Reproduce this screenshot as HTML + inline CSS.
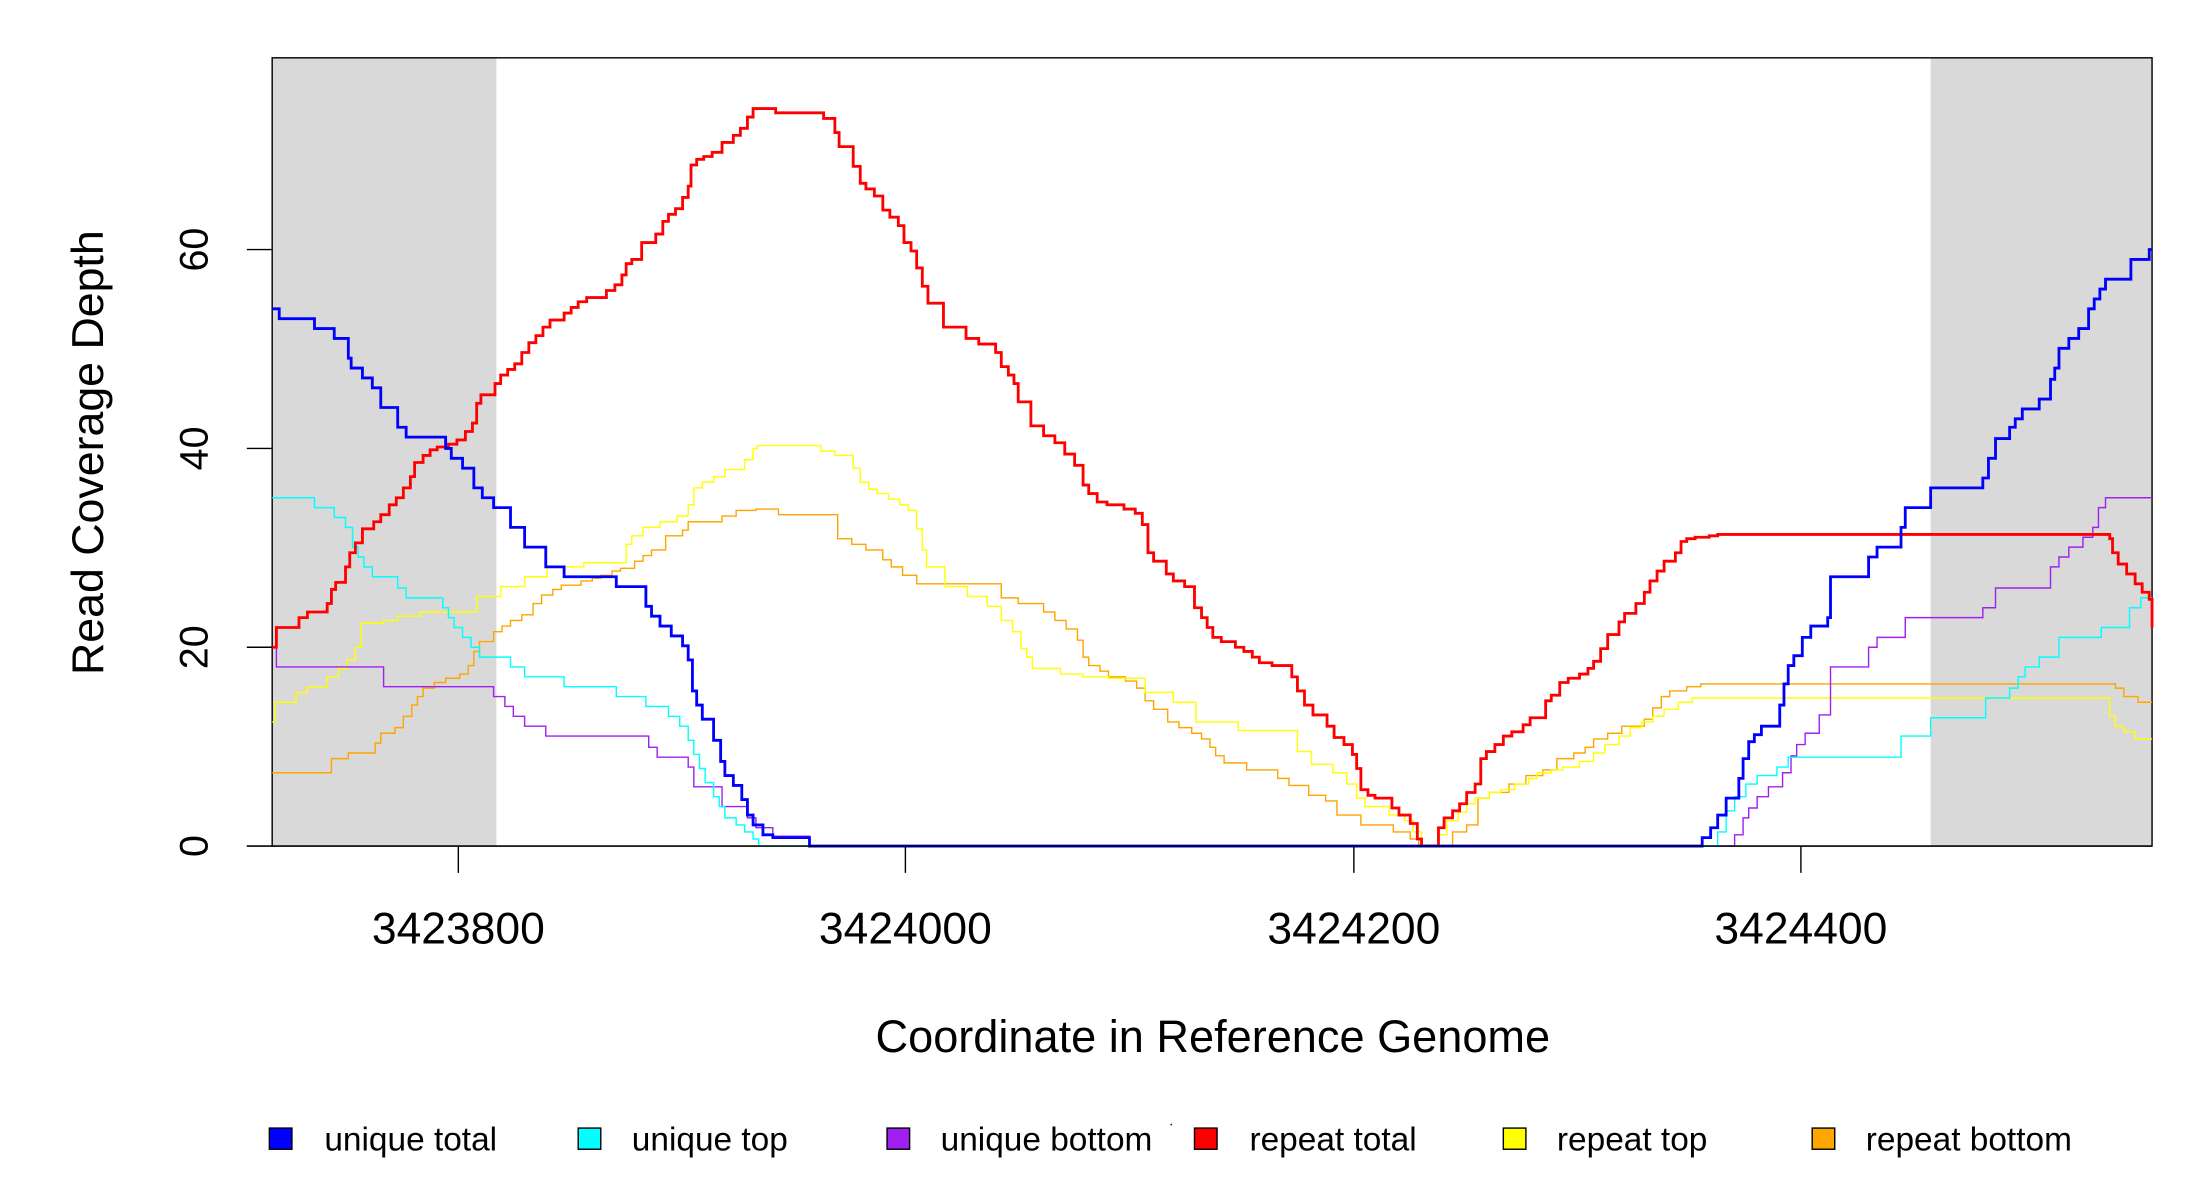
<!DOCTYPE html>
<html><head><meta charset="utf-8"><style>html,body{margin:0;padding:0;background:#fff;}svg{display:block;}</style></head>
<body>
<svg width="2200" height="1200" viewBox="0 0 1560 851" preserveAspectRatio="none" xmlns="http://www.w3.org/2000/svg" font-family="Liberation Sans, sans-serif">
<rect x="0" y="0" width="1560" height="851" fill="#fff"/>
<rect x="193" y="41" width="159" height="559" fill="#d9d9d9"/>
<rect x="1369" y="41" width="157" height="559" fill="#d9d9d9"/>
<rect x="193" y="41" width="1333" height="559" fill="none" stroke="#000" stroke-width="1"/>
<g fill="none" stroke-linejoin="miter">
<polyline stroke="#ffa500" stroke-width="1" points="193,548 235,548 235,538 247,538 247,534 266,534 266,527 270,527 270,520 280,520 280,516 286,516 286,508 292,508 292,500 296,500 296,494 300,494 300,488 308,488 308,484 316,484 316,481 326,481 326,478 332,478 332,472 336,472 336,462 340,462 340,455 350,455 350,448 356,448 356,444 362,444 362,440 370,440 370,436 378,436 378,428 384,428 384,422 392,422 392,418 398,418 398,415 412,415 412,412 420,412 420,410 426,410 426,408 434,408 434,405 440,405 440,403 450,403 450,398 456,398 456,394 462,394 462,390 472,390 472,380 484,380 484,376 488,376 488,370 512,370 512,366 522,366 522,362 536,362 536,361 552,361 552,365 594,365 594,382 604,382 604,386 614,386 614,390 626,390 626,397 632,397 632,402 640,402 640,408 650,408 650,414 710,414 710,424 722,424 722,428 740,428 740,434 748,434 748,440 756,440 756,446 764,446 764,454 768,454 768,466 772,466 772,472 780,472 780,476 786,476 786,480 798,480 798,483 806,483 806,488 812,488 812,497 818,497 818,503 828,503 828,512 836,512 836,516 845,516 845,520 852,520 852,524 858,524 858,530 862,530 862,536 868,536 868,541 884,541 884,546 906,546 906,552 914,552 914,557 928,557 928,564 940,564 940,568 948,568 948,578 965,578 965,585 988,585 988,590 1000,590 1000,595 1006,595 1006,600 1030,600 1030,590 1040,590 1040,585 1048,585 1048,566 1056,566 1056,562 1070,562 1070,556 1082,556 1082,550 1094,550 1094,546 1104,546 1104,538 1116,538 1116,534 1124,534 1124,530 1130,530 1130,524 1140,524 1140,520 1150,520 1150,515 1166,515 1166,510 1172,510 1172,502 1178,502 1178,494 1184,494 1184,490 1196,490 1196,487 1206,487 1206,485 1500,485 1500,488 1506,488 1506,494 1516,494 1516,498 1526,498"/>
<polyline stroke="#ffff00" stroke-width="1" points="193,512 195,512 195,498 210,498 210,491 218,491 218,487 232,487 232,480 240,480 240,474 246,474 246,468 252,468 252,459 256,459 256,442 272,442 272,440 282,440 282,437 298,437 298,434 338,434 338,423 355,423 355,416 372,416 372,409 388,409 388,402 414,402 414,399 444,399 444,386 448,386 448,380 456,380 456,374 468,374 468,370 480,370 480,366 488,366 488,358 492,358 492,346 498,346 498,342 506,342 506,338 514,338 514,333 528,333 528,326 534,326 534,318 537,318 537,316 582,316 582,320 592,320 592,323 605,323 605,332 610,332 610,342 616,342 616,347 622,347 622,350 630,350 630,354 638,354 638,358 644,358 644,362 650,362 650,375 654,375 654,390 657,390 657,402 670,402 670,416 686,416 686,423 700,423 700,430 710,430 710,440 718,440 718,448 724,448 724,460 728,460 728,466 732,466 732,474 752,474 752,478 768,478 768,480 786,480 786,481 812,481 812,491 832,491 832,498 848,498 848,512 878,512 878,518 920,518 920,533 930,533 930,542 945,542 945,548 955,548 955,556 962,556 962,566 968,566 968,572 985,572 985,578 996,578 996,582 1002,582 1002,590 1008,590 1008,600 1020,600 1020,592 1026,592 1026,582 1034,582 1034,576 1040,576 1040,570 1046,570 1046,566 1056,566 1056,562 1064,562 1064,560 1074,560 1074,556 1084,556 1084,552 1090,552 1090,548 1100,548 1100,546 1108,546 1108,544 1120,544 1120,540 1130,540 1130,534 1138,534 1138,528 1148,528 1148,522 1156,522 1156,516 1164,516 1164,512 1172,512 1172,508 1180,508 1180,503 1190,503 1190,498 1200,498 1200,495 1496,495 1496,508 1500,508 1500,515 1506,515 1506,519 1514,519 1514,524 1526,524"/>
<polyline stroke="#a020f0" stroke-width="1" points="193,459 196,459 196,473 272,473 272,487 350,487 350,494 358,494 358,501 364,501 364,508 372,508 372,515 387,515 387,522 460,522 460,530 466,530 466,537 488,537 488,544 492,544 492,558 512,558 512,572 530,572 530,580 536,580 536,587 548,587 548,593 574,593 574,600 1230,600 1230,592 1236,592 1236,580 1240,580 1240,573 1246,573 1246,565 1254,565 1254,558 1264,558 1264,548 1270,548 1270,536 1274,536 1274,528 1280,528 1280,520 1290,520 1290,507 1298,507 1298,473 1325,473 1325,459 1331,459 1331,452 1351,452 1351,438 1406,438 1406,431 1415,431 1415,417 1454,417 1454,402 1460,402 1460,395 1467,395 1467,388 1477,388 1477,381 1484,381 1484,374 1488,374 1488,360 1493,360 1493,353 1526,353"/>
<polyline stroke="#00ffff" stroke-width="1" points="193,353 223,353 223,360 237,360 237,367 245,367 245,374 250,374 250,388 254,388 254,395 258,395 258,402 264,402 264,409 282,409 282,417 288,417 288,424 314,424 314,431 318,431 318,438 322,438 322,445 328,445 328,452 334,452 334,459 340,459 340,466 362,466 362,473 372,473 372,480 400,480 400,487 437,487 437,494 458,494 458,501 474,501 474,508 482,508 482,515 488,515 488,525 492,525 492,535 496,535 496,545 500,545 500,555 506,555 506,565 510,565 510,572 514,572 514,580 522,580 522,585 528,585 528,590 534,590 534,595 538,595 538,600 1218,600 1218,590 1224,590 1224,575 1230,575 1230,565 1238,565 1238,556 1246,556 1246,550 1260,550 1260,544 1268,544 1268,537 1348,537 1348,522 1369,522 1369,509 1408,509 1408,495 1425,495 1425,488 1431,488 1431,480 1436,480 1436,473 1446,473 1446,466 1460,466 1460,452 1490,452 1490,445 1510,445 1510,431 1518,431 1518,424 1526,424"/>
<polyline stroke="#ff0000" stroke-width="2" points="193,459 196,459 196,445 212,445 212,438 218,438 218,434 232,434 232,428 235,428 235,418 238,418 238,413 245,413 245,402 248,402 248,392 252,392 252,385 257,385 257,375 265,375 265,370 270,370 270,365 276,365 276,358 281,358 281,353 286,353 286,346 291,346 291,338 294,338 294,328 300,328 300,323 305,323 305,319 310,319 310,317 318,317 318,315 324,315 324,312 330,312 330,306 335,306 335,300 338,300 338,286 341,286 341,280 351,280 351,272 355,272 355,266 360,266 360,262 365,262 365,258 370,258 370,250 375,250 375,243 380,243 380,238 385,238 385,232 390,232 390,227 400,227 400,222 405,222 405,218 410,218 410,214 416,214 416,211 430,211 430,206 436,206 436,202 441,202 441,195 444,195 444,187 448,187 448,184 455,184 455,172 465,172 465,166 470,166 470,157 474,157 474,152 479,152 479,148 484,148 484,140 488,140 488,132 490,132 490,117 494,117 494,113 499,113 499,111 505,111 505,108 512,108 512,101 520,101 520,96 525,96 525,91 530,91 530,83 534,83 534,77 550,77 550,80 584,80 584,84 592,84 592,94 595,94 595,104 605,104 605,118 610,118 610,130 614,130 614,134 620,134 620,139 626,139 626,149 631,149 631,154 637,154 637,160 641,160 641,172 646,172 646,178 650,178 650,190 654,190 654,203 658,203 658,215 669,215 669,232 685,232 685,240 694,240 694,244 706,244 706,250 710,250 710,260 715,260 715,266 719,266 719,272 722,272 722,285 731,285 731,302 740,302 740,309 748,309 748,314 755,314 755,322 762,322 762,330 768,330 768,344 772,344 772,350 778,350 778,356 785,356 785,358 797,358 797,361 805,361 805,364 810,364 810,372 814,372 814,392 818,392 818,398 827,398 827,407 832,407 832,412 840,412 840,416 847,416 847,431 852,431 852,438 856,438 856,445 860,445 860,452 866,452 866,455 876,455 876,459 882,459 882,462 888,462 888,466 893,466 893,470 902,470 902,472 916,472 916,480 920,480 920,490 925,490 925,500 931,500 931,507 941,507 941,515 946,515 946,523 953,523 953,528 959,528 959,535 962,535 962,545 965,545 965,560 970,560 970,564 975,564 975,566 987,566 987,573 992,573 992,578 1000,578 1000,584 1005,584 1005,595 1008,595 1008,600 1020,600 1020,587 1024,587 1024,580 1030,580 1030,575 1035,575 1035,570 1040,570 1040,562 1046,562 1046,556 1050,556 1050,538 1054,538 1054,533 1060,533 1060,528 1066,528 1066,522 1072,522 1072,519 1080,519 1080,514 1085,514 1085,509 1096,509 1096,497 1100,497 1100,493 1106,493 1106,484 1112,484 1112,481 1120,481 1120,478 1126,478 1126,474 1130,474 1130,469 1135,469 1135,460 1140,460 1140,450 1148,450 1148,441 1152,441 1152,435 1160,435 1160,428 1166,428 1166,420 1170,420 1170,412 1175,412 1175,405 1180,405 1180,398 1188,398 1188,392 1192,392 1192,384 1196,384 1196,382 1202,382 1202,381 1212,381 1212,380 1218,380 1218,379 1496,379 1496,382 1498,382 1498,392 1502,392 1502,400 1508,400 1508,407 1514,407 1514,414 1519,414 1519,420 1524,420 1524,425 1526,425 1526,445"/>
<polyline stroke="#0000ff" stroke-width="2" points="193,219 198,219 198,226 223,226 223,233 237,233 237,240 247,240 247,254 249,254 249,261 257,261 257,268 264,268 264,275 270,275 270,289 282,289 282,303 288,303 288,310 316,310 316,318 320,318 320,325 328,325 328,332 336,332 336,346 342,346 342,353 350,353 350,360 362,360 362,374 372,374 372,388 387,388 387,402 400,402 400,409 437,409 437,416 458,416 458,430 462,430 462,437 468,437 468,444 476,444 476,451 484,451 484,458 488,458 488,468 491,468 491,490 494,490 494,500 498,500 498,510 506,510 506,525 511,525 511,540 514,540 514,550 520,550 520,557 526,557 526,567 530,567 530,578 534,578 534,585 541,585 541,592 548,592 548,594 574,594 574,600 1207,600 1207,594 1213,594 1213,587 1218,587 1218,578 1224,578 1224,566 1233,566 1233,552 1236,552 1236,538 1240,538 1240,526 1244,526 1244,521 1249,521 1249,515 1262,515 1262,500 1265,500 1265,485 1268,485 1268,472 1272,472 1272,465 1278,465 1278,452 1284,452 1284,444 1296,444 1296,438 1298,438 1298,409 1325,409 1325,395 1331,395 1331,388 1348,388 1348,374 1351,374 1351,360 1369,360 1369,346 1406,346 1406,339 1410,339 1410,325 1415,325 1415,311 1425,311 1425,303 1429,303 1429,297 1434,297 1434,290 1446,290 1446,283 1454,283 1454,269 1457,269 1457,261 1460,261 1460,247 1467,247 1467,240 1474,240 1474,233 1481,233 1481,219 1485,219 1485,212 1489,212 1489,205 1493,205 1493,198 1511,198 1511,184 1524,184 1524,177 1526,177"/>
</g>
<g stroke="#000" stroke-width="1">
<line x1="175" y1="600" x2="1526" y2="600"/>
<line x1="175" y1="177" x2="193" y2="177"/>
<line x1="175" y1="318" x2="193" y2="318"/>
<line x1="175" y1="459" x2="193" y2="459"/>
<line x1="175" y1="600" x2="193" y2="600"/>
<line x1="325" y1="600" x2="325" y2="619"/>
<line x1="642" y1="600" x2="642" y2="619"/>
<line x1="960" y1="600" x2="960" y2="619"/>
<line x1="1277" y1="600" x2="1277" y2="619"/>
</g>
<g font-size="28" text-anchor="middle" fill="#000">
<text transform="translate(147,177) rotate(-90)">60</text>
<text transform="translate(147,318) rotate(-90)">40</text>
<text transform="translate(147,459) rotate(-90)">20</text>
<text transform="translate(147,600) rotate(-90)">0</text>
<text x="325" y="669" font-size="31.5">3423800</text>
<text x="642" y="669" font-size="31.5">3424000</text>
<text x="960" y="669" font-size="31.5">3424200</text>
<text x="1277" y="669" font-size="31.5">3424400</text>
<text x="860" y="746" font-size="32">Coordinate in Reference Genome</text>
<text transform="translate(73,321) rotate(-90)" font-size="31.7">Read Coverage Depth</text>
</g>
<g stroke="#000" stroke-width="1">
<rect x="191" y="800" width="16" height="15" fill="#0000ff"/>
<rect x="410" y="800" width="16" height="15" fill="#00ffff"/>
<rect x="629" y="800" width="16" height="15" fill="#a020f0"/>
<rect x="847" y="800" width="16" height="15" fill="#ff0000"/>
<rect x="1066" y="800" width="16" height="15" fill="#ffff00"/>
<rect x="1285" y="800" width="16" height="15" fill="#ffa500"/>
</g>
<rect x="830" y="797" width="1" height="1" fill="#000"/>
<g font-size="23.7" fill="#000">
<text x="230" y="816">unique total</text>
<text x="448" y="816">unique top</text>
<text x="667" y="816">unique bottom</text>
<text x="886" y="816">repeat total</text>
<text x="1104" y="816">repeat top</text>
<text x="1323" y="816">repeat bottom</text>
</g>
</svg>
</body></html>
